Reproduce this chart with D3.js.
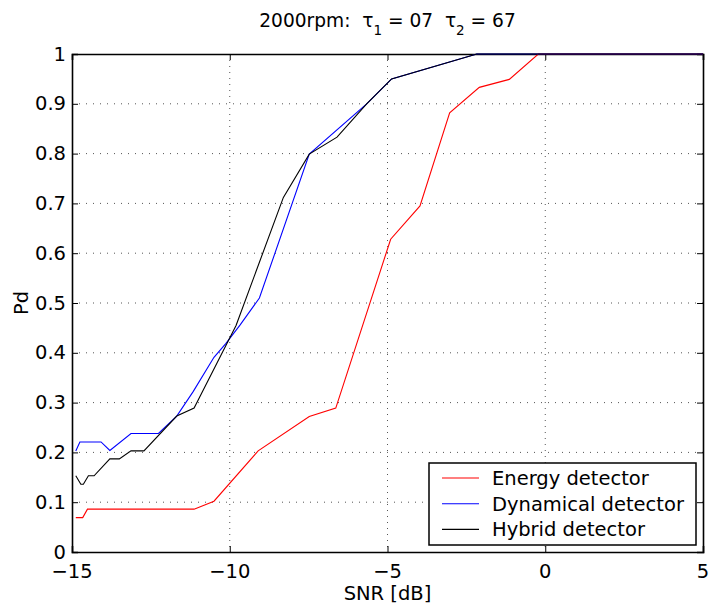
<!DOCTYPE html>
<html>
<head>
<meta charset="utf-8">
<script src="https://cdn.jsdelivr.net/npm/d3@7"></script>
<style>
  body { margin: 0; background: #fff; }
  text { font-family: "DejaVu Sans", sans-serif; fill: #000; }
</style>
</head>
<body>
<div id="my_dataviz"></div>
<script>
// data
var energyX = [-14.88, -14.66, -14.51, -11.13, -10.5, -9.1, -7.48, -6.64, -4.9, -3.97, -3.03, -2.09, -1.14, -0.22, 5];
var energyY = [0.069, 0.069, 0.086, 0.086, 0.102, 0.203, 0.272, 0.289, 0.628, 0.695, 0.882, 0.933, 0.949, 1.0, 1.0];

var dynX = [-14.88, -14.75, -14.08, -13.8, -13.13, -12.26, -11.68, -11.16, -10.5, -10.12, -9.67, -9.06, -7.48, -5.66, -4.87, -2.17, 5];
var dynY = [0.203, 0.221, 0.221, 0.204, 0.238, 0.238, 0.273, 0.322, 0.391, 0.419, 0.456, 0.51, 0.799, 0.9, 0.95, 1.0, 1.0];

var hybX = [-14.88, -14.72, -14.64, -14.48, -14.3, -13.8, -13.5, -13.13, -12.72, -11.68, -11.13, -10.4, -9.8, -8.3, -7.48, -6.6, -5.66, -4.87, -2.17, 5];
var hybY = [0.153, 0.136, 0.136, 0.153, 0.153, 0.187, 0.187, 0.203, 0.203, 0.273, 0.289, 0.38, 0.455, 0.712, 0.799, 0.833, 0.9, 0.95, 1.0, 1.0];

var xTicks = [-15, -10, -5, 0, 5];
var yTicks = [0, 0.1, 0.2, 0.3, 0.4, 0.5, 0.6, 0.7, 0.8, 0.9, 1];
var seriesNames = ["Energy detector", "Dynamical detector", "Hybrid detector"];
var seriesColors = ["#ff0000", "#0000ff", "#000000"];

// set the dimensions and margins of the graph
var margin = {top: 54, right: 8, bottom: 55, left: 72},
    width = 711 - margin.left - margin.right,
    height = 607 - margin.top - margin.bottom;

var fs = 19.5; // font size

var svg = d3.select("#my_dataviz")
  .append("svg")
    .attr("width", 711)
    .attr("height", 607)
  .append("g")
    .attr("transform", "translate(" + margin.left + "," + margin.top + ")");

var x = d3.scaleLinear().domain([-15, 5]).range([0, width]);
var y = d3.scaleLinear().domain([0, 1]).range([height, 0]);

function label(g, px, py, str, anchor) {
  return g.append("text")
    .attr("x", px).attr("y", py)
    .attr("text-anchor", anchor)
    .attr("font-size", fs)
    .text(str);
}

// grid
svg.append("g").selectAll("line")
  .data(xTicks.slice(1, -1))
  .enter().append("line")
    .attr("x1", function(d) { return x(d); })
    .attr("x2", function(d) { return x(d); })
    .attr("y1", 0).attr("y2", height)
    .attr("stroke", "#555")
    .attr("stroke-dasharray", "1,5");
svg.append("g").selectAll("line")
  .data(yTicks.slice(1, -1))
  .enter().append("line")
    .attr("y1", function(d) { return y(d); })
    .attr("y2", function(d) { return y(d); })
    .attr("x1", 0).attr("x2", width)
    .attr("stroke", "#555")
    .attr("stroke-dasharray", "1,6");

// axes, ticks drawn inside like matlab
var tk = 6;
svg.append("g")
  .attr("transform", "translate(0," + height + ")")
  .call(d3.axisBottom(x).tickValues(xTicks).tickSize(-tk).tickFormat(""));
svg.append("g")
  .call(d3.axisTop(x).tickValues(xTicks).tickSize(-tk).tickFormat(""));
svg.append("g")
  .call(d3.axisLeft(y).tickValues(yTicks).tickSize(-tk).tickFormat(""));
svg.append("g")
  .attr("transform", "translate(" + width + ",0)")
  .call(d3.axisRight(y).tickValues(yTicks).tickSize(-tk).tickFormat(""));
svg.selectAll(".domain").attr("stroke", "#000").attr("stroke-width", 1.6);
svg.selectAll(".tick line").attr("stroke", "#000").attr("stroke-width", 1);

// tick labels
xTicks.forEach(function(d) {
  label(svg, x(d), height + 26, d < 0 ? "\u2212" + Math.abs(d) : String(d), "middle");
});
yTicks.forEach(function(d) {
  label(svg, -6, y(d) + 6.5, String(d), "end");
});

// lines
var line = d3.line()
  .x(function(d) { return x(d[0]); })
  .y(function(d) { return y(d[1]); });
var allSeries = [d3.zip(energyX, energyY), d3.zip(dynX, dynY), d3.zip(hybX, hybY)];
allSeries.forEach(function(s, i) {
  svg.append("path")
    .datum(s)
    .attr("fill", "none")
    .attr("stroke", seriesColors[i])
    .attr("stroke-width", 1.1)
    .attr("d", line);
});

// axis titles
label(svg, width / 2, height + 48, "SNR [dB]", "middle");
svg.append("text")
  .attr("transform", "translate(-44," + (height / 2) + ") rotate(-90)")
  .attr("text-anchor", "middle")
  .attr("font-size", fs)
  .text("Pd");

// title
var title = svg.append("text")
  .attr("x", width / 2).attr("y", -27)
  .attr("text-anchor", "middle")
  .attr("font-size", 18.6)
  .attr("xml:space", "preserve");
title.append("tspan").text("2000rpm:  \u03c4");
title.append("tspan").attr("dy", 8).attr("font-size", 13.5).text("1");
title.append("tspan").attr("dy", -8).text(" = 07  \u03c4");
title.append("tspan").attr("dy", 8).attr("font-size", 13.5).text("2");
title.append("tspan").attr("dy", -8).text(" = 67");

// legend
var leg = svg.append("g").attr("transform", "translate(" + (429 - margin.left) + "," + (463 - margin.top) + ")");
leg.append("rect")
  .attr("width", 267).attr("height", 82)
  .attr("fill", "#fff").attr("stroke", "#000").attr("stroke-width", 1.5);
seriesNames.forEach(function(n, i) {
  var ly = 15 + i * 25.7;
  leg.append("line")
    .attr("x1", 13).attr("x2", 50)
    .attr("y1", ly).attr("y2", ly)
    .attr("stroke", seriesColors[i]).attr("stroke-width", 1.1);
  label(leg, 63, ly + 7, n, "start");
});
</script>
</body>
</html>
